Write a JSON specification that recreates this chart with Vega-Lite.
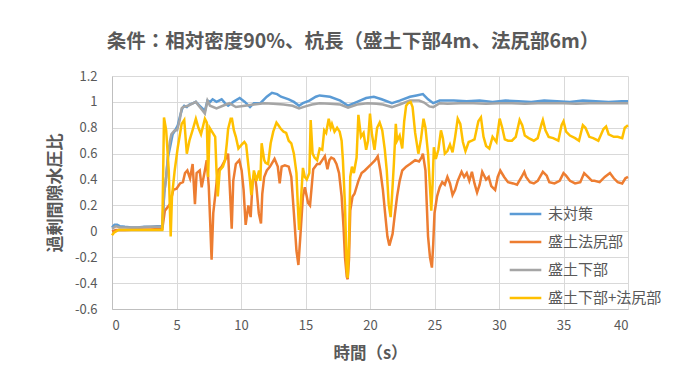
{
"$schema":"https://vega.github.io/schema/vega-lite/v6.json",
"width":516,"height":233,
"autosize":{"type":"none"},
"padding":{"left":112,"top":76,"right":48,"bottom":61},
"background":"white",
"config":{"font":"Noto Sans CJK JP","view":{"stroke":null}},
"title":{"text":"条件：相対密度90%、杭長（盛土下部4m、法尻部6m）","fontSize":19.5,"fontWeight":"bold","color":"#595959","anchor":"middle","dx":-17,"offset":18,"font":"Noto Sans CJK JP"},
"encoding":{
"x":{"field":"t","type":"quantitative","scale":{"domain":[0,40],"nice":false},"axis":{"values":[0,5,10,15,20,25,30,35,40],"title":"時間（s）","titleFontSize":16.5,"titleFontWeight":"bold","titleColor":"#595959","titlePadding":13,"labelFontSize":13,"labelColor":"#595959","labelPadding":10,"ticks":false,"domainColor":"#BFBFBF","gridColor":"#D9D9D9","labelFont":"Noto Sans CJK JP","titleFont":"Noto Sans CJK JP"}},
"y":{"field":"v","type":"quantitative","scale":{"domain":[-0.6,1.2],"nice":false,"zero":false},"axis":{"values":[-0.6,-0.4,-0.2,0,0.2,0.4,0.6,0.8,1,1.2],"labelExpr":"replace(format(datum.value,'.1~f'),'−','-')","title":"過剰間隙水圧比","titleFontSize":17,"titleFontWeight":"bold","titleColor":"#595959","titlePadding":10,"labelFontSize":13,"labelColor":"#595959","labelPadding":15,"ticks":false,"domainColor":"#BFBFBF","gridColor":"#D9D9D9","labelFont":"Noto Sans CJK JP","titleFont":"Noto Sans CJK JP"}}
},
"layer":[
{"data":{"values":[{"t":0,"v":0.03},{"t":0.2,"v":0.05},{"t":0.4,"v":0.05},{"t":0.6,"v":0.04},{"t":1,"v":0.035},{"t":1.5,"v":0.03},{"t":2,"v":0.03},{"t":2.5,"v":0.035},{"t":3,"v":0.035},{"t":3.5,"v":0.04},{"t":3.9,"v":0.04},{"t":4.05,"v":0.3},{"t":4.2,"v":0.42},{"t":4.35,"v":0.58},{"t":4.5,"v":0.65},{"t":4.7,"v":0.75},{"t":4.9,"v":0.78},{"t":5.1,"v":0.82},{"t":5.3,"v":0.9},{"t":5.45,"v":0.95},{"t":5.6,"v":0.97},{"t":5.8,"v":0.96},{"t":6,"v":0.98},{"t":6.3,"v":0.99},{"t":6.5,"v":1.0},{"t":6.8,"v":0.97},{"t":7,"v":0.95},{"t":7.2,"v":0.93},{"t":7.4,"v":1.01},{"t":7.6,"v":1.0},{"t":7.8,"v":1.02},{"t":8.1,"v":1.0},{"t":8.5,"v":1.02},{"t":8.76,"v":0.99},{"t":9,"v":0.97},{"t":9.4,"v":1.0},{"t":9.9,"v":1.03},{"t":10.3,"v":1.0},{"t":10.7,"v":0.96},{"t":11,"v":0.99},{"t":11.5,"v":0.99},{"t":12,"v":1.04},{"t":12.4,"v":1.07},{"t":12.8,"v":1.06},{"t":13.1,"v":1.04},{"t":13.7,"v":1.02},{"t":14.1,"v":1.0},{"t":14.5,"v":0.97},{"t":14.8,"v":0.99},{"t":15.3,"v":1.01},{"t":15.8,"v":1.04},{"t":16.1,"v":1.05},{"t":16.9,"v":1.04},{"t":17.7,"v":1.01},{"t":18.3,"v":0.97},{"t":19,"v":1.0},{"t":19.7,"v":1.03},{"t":20.3,"v":1.04},{"t":20.9,"v":1.02},{"t":21.7,"v":0.99},{"t":22.3,"v":1.01},{"t":23.1,"v":1.04},{"t":23.6,"v":1.05},{"t":24.1,"v":1.06},{"t":24.5,"v":1.02},{"t":24.9,"v":0.99},{"t":25.4,"v":1.01},{"t":26.5,"v":1.01},{"t":27.5,"v":1.005},{"t":28.5,"v":1.01},{"t":29.5,"v":1.0},{"t":30.5,"v":1.01},{"t":31.5,"v":1.005},{"t":32.5,"v":1.0},{"t":33.5,"v":1.01},{"t":34.5,"v":1.005},{"t":35.5,"v":1.0},{"t":36.5,"v":1.01},{"t":37.5,"v":1.005},{"t":38.5,"v":1.0},{"t":39.5,"v":1.005},{"t":40,"v":1.005}]},
"mark":{"type":"line","strokeWidth":2.5},
"encoding":{"color":{"datum":"未対策","scale":{"domain":["未対策","盛土法尻部","盛土下部","盛土下部+法尻部"],"range":["#5B9BD5","#ED7D31","#A5A5A5","#FFC000"]},"legend":{"orient":"none","legendX":396,"legendY":124,"title":null,"padding":0,"symbolType":"stroke","symbolSize":1000,"symbolStrokeWidth":2.5,"labelFontSize":15,"labelColor":"#595959","labelFont":"Noto Sans CJK JP","labelOffset":5,"rowPadding":0,"clipHeight":28}}}},
{"data":{"values":[{"t":0,"v":0.0},{"t":0.3,"v":0.01},{"t":1,"v":0.01},{"t":2,"v":0.015},{"t":3,"v":0.015},{"t":3.9,"v":0.02},{"t":4.1,"v":0.16},{"t":4.5,"v":0.21},{"t":4.75,"v":0.32},{"t":5,"v":0.33},{"t":5.27,"v":0.37},{"t":5.5,"v":0.38},{"t":5.66,"v":0.45},{"t":5.84,"v":0.47},{"t":6.05,"v":0.41},{"t":6.25,"v":0.52},{"t":6.43,"v":0.21},{"t":6.56,"v":0.45},{"t":6.8,"v":0.47},{"t":6.95,"v":0.34},{"t":7.2,"v":0.47},{"t":7.34,"v":0.55},{"t":7.5,"v":0.35},{"t":7.6,"v":0.1},{"t":7.72,"v":-0.22},{"t":7.85,"v":0.14},{"t":8.05,"v":0.32},{"t":8.2,"v":0.47},{"t":8.5,"v":0.5},{"t":8.76,"v":0.55},{"t":9,"v":0.6},{"t":9.15,"v":0.3},{"t":9.28,"v":0.02},{"t":9.4,"v":0.39},{"t":9.6,"v":0.52},{"t":9.87,"v":0.55},{"t":10.05,"v":0.47},{"t":10.2,"v":0.32},{"t":10.36,"v":0.05},{"t":10.57,"v":0.2},{"t":10.75,"v":0.11},{"t":10.9,"v":0.39},{"t":11.05,"v":0.45},{"t":11.2,"v":0.34},{"t":11.38,"v":0.14},{"t":11.55,"v":0.06},{"t":11.65,"v":0.29},{"t":11.8,"v":0.42},{"t":12,"v":0.47},{"t":12.25,"v":0.5},{"t":12.6,"v":0.56},{"t":12.85,"v":0.5},{"t":13,"v":0.37},{"t":13.15,"v":0.5},{"t":13.4,"v":0.51},{"t":13.7,"v":0.5},{"t":13.9,"v":0.42},{"t":14.1,"v":0.14},{"t":14.3,"v":-0.15},{"t":14.45,"v":-0.26},{"t":14.6,"v":-0.04},{"t":14.8,"v":0.27},{"t":14.95,"v":0.34},{"t":15.2,"v":0.22},{"t":15.35,"v":0.2},{"t":15.6,"v":0.48},{"t":15.9,"v":0.52},{"t":16.1,"v":0.52},{"t":16.3,"v":0.55},{"t":16.5,"v":0.58},{"t":16.7,"v":0.48},{"t":16.85,"v":0.55},{"t":17,"v":0.57},{"t":17.2,"v":0.56},{"t":17.4,"v":0.52},{"t":17.6,"v":0.45},{"t":17.8,"v":0.27},{"t":17.95,"v":0.03},{"t":18.06,"v":-0.2},{"t":18.2,"v":-0.35},{"t":18.27,"v":-0.37},{"t":18.37,"v":-0.22},{"t":18.47,"v":0.16},{"t":18.65,"v":0.27},{"t":18.8,"v":0.29},{"t":19.1,"v":0.39},{"t":19.35,"v":0.45},{"t":19.6,"v":0.47},{"t":19.9,"v":0.5},{"t":20.1,"v":0.52},{"t":20.4,"v":0.55},{"t":20.6,"v":0.58},{"t":20.8,"v":0.47},{"t":21,"v":0.32},{"t":21.2,"v":0.11},{"t":21.35,"v":-0.04},{"t":21.5,"v":-0.11},{"t":21.75,"v":-0.02},{"t":21.9,"v":0.11},{"t":22.1,"v":0.27},{"t":22.3,"v":0.39},{"t":22.5,"v":0.47},{"t":22.8,"v":0.5},{"t":23.1,"v":0.52},{"t":23.5,"v":0.55},{"t":23.8,"v":0.54},{"t":24,"v":0.57},{"t":24.1,"v":0.6},{"t":24.3,"v":0.47},{"t":24.4,"v":0.21},{"t":24.5,"v":-0.04},{"t":24.65,"v":-0.2},{"t":24.8,"v":-0.28},{"t":24.9,"v":-0.1},{"t":25,"v":0.14},{"t":25.2,"v":0.27},{"t":25.4,"v":0.34},{"t":25.6,"v":0.38},{"t":25.8,"v":0.36},{"t":26,"v":0.42},{"t":26.2,"v":0.37},{"t":26.4,"v":0.28},{"t":26.6,"v":0.32},{"t":26.8,"v":0.39},{"t":27.1,"v":0.46},{"t":27.3,"v":0.42},{"t":27.5,"v":0.45},{"t":27.7,"v":0.39},{"t":27.9,"v":0.46},{"t":28.1,"v":0.37},{"t":28.3,"v":0.3},{"t":28.5,"v":0.36},{"t":28.7,"v":0.46},{"t":29,"v":0.4},{"t":29.2,"v":0.42},{"t":29.4,"v":0.35},{"t":29.7,"v":0.32},{"t":29.9,"v":0.42},{"t":30.1,"v":0.47},{"t":30.4,"v":0.42},{"t":30.7,"v":0.38},{"t":31.1,"v":0.37},{"t":31.4,"v":0.36},{"t":31.75,"v":0.42},{"t":31.96,"v":0.46},{"t":32.1,"v":0.42},{"t":32.4,"v":0.38},{"t":32.7,"v":0.37},{"t":33,"v":0.39},{"t":33.4,"v":0.46},{"t":33.7,"v":0.43},{"t":33.9,"v":0.38},{"t":34.3,"v":0.37},{"t":34.7,"v":0.39},{"t":35,"v":0.45},{"t":35.2,"v":0.43},{"t":35.5,"v":0.39},{"t":35.9,"v":0.37},{"t":36.3,"v":0.38},{"t":36.6,"v":0.45},{"t":36.9,"v":0.42},{"t":37.2,"v":0.39},{"t":37.4,"v":0.39},{"t":37.8,"v":0.38},{"t":38.2,"v":0.42},{"t":38.6,"v":0.45},{"t":38.9,"v":0.41},{"t":39.2,"v":0.38},{"t":39.55,"v":0.37},{"t":39.8,"v":0.41},{"t":40,"v":0.42}]},
"mark":{"type":"line","strokeWidth":2.5},
"encoding":{"color":{"datum":"盛土法尻部"}}},
{"data":{"values":[{"t":0,"v":0.02},{"t":0.3,"v":0.04},{"t":0.6,"v":0.03},{"t":1,"v":0.03},{"t":2,"v":0.03},{"t":3,"v":0.035},{"t":3.9,"v":0.035},{"t":4.05,"v":0.3},{"t":4.2,"v":0.42},{"t":4.35,"v":0.6},{"t":4.5,"v":0.7},{"t":4.6,"v":0.75},{"t":4.86,"v":0.78},{"t":5.05,"v":0.78},{"t":5.25,"v":0.86},{"t":5.4,"v":0.95},{"t":5.5,"v":0.96},{"t":5.9,"v":0.97},{"t":6.3,"v":0.99},{"t":6.5,"v":1.0},{"t":6.8,"v":0.96},{"t":7.05,"v":0.93},{"t":7.2,"v":0.91},{"t":7.4,"v":1.01},{"t":7.6,"v":0.97},{"t":8.1,"v":0.95},{"t":8.6,"v":0.97},{"t":9.1,"v":0.99},{"t":9.6,"v":0.96},{"t":10.3,"v":0.97},{"t":11,"v":0.98},{"t":11.8,"v":0.99},{"t":12.5,"v":0.985},{"t":13.3,"v":0.98},{"t":14,"v":0.97},{"t":14.5,"v":0.95},{"t":15,"v":0.965},{"t":15.5,"v":0.98},{"t":16.1,"v":0.99},{"t":16.9,"v":0.985},{"t":17.7,"v":0.98},{"t":18.3,"v":0.955},{"t":19,"v":0.98},{"t":19.8,"v":0.99},{"t":20.5,"v":0.985},{"t":21,"v":0.98},{"t":21.7,"v":0.96},{"t":22.3,"v":0.98},{"t":23.1,"v":1.01},{"t":23.8,"v":1.01},{"t":24.2,"v":0.995},{"t":24.6,"v":0.965},{"t":24.9,"v":0.96},{"t":25.4,"v":0.99},{"t":26,"v":0.985},{"t":27,"v":0.99},{"t":28,"v":0.99},{"t":29,"v":0.985},{"t":30,"v":0.99},{"t":31,"v":0.99},{"t":32,"v":0.985},{"t":33,"v":0.99},{"t":34,"v":0.99},{"t":35,"v":0.99},{"t":36,"v":0.985},{"t":37,"v":0.99},{"t":38,"v":0.99},{"t":39,"v":0.99},{"t":40,"v":0.99}]},
"mark":{"type":"line","strokeWidth":2.5},
"encoding":{"color":{"datum":"盛土下部"}}},
{"data":{"values":[{"t":0,"v":-0.03},{"t":0.15,"v":-0.01},{"t":0.5,"v":0.01},{"t":1,"v":0.01},{"t":2,"v":0.01},{"t":3,"v":0.01},{"t":3.9,"v":0.01},{"t":4.03,"v":0.88},{"t":4.2,"v":0.78},{"t":4.4,"v":0.47},{"t":4.55,"v":-0.04},{"t":4.65,"v":0.27},{"t":4.86,"v":0.47},{"t":5.1,"v":0.65},{"t":5.4,"v":0.83},{"t":5.6,"v":0.86},{"t":5.8,"v":0.6},{"t":6,"v":0.7},{"t":6.3,"v":0.8},{"t":6.5,"v":0.87},{"t":6.7,"v":0.8},{"t":6.9,"v":0.75},{"t":7.2,"v":0.87},{"t":7.35,"v":0.84},{"t":7.45,"v":0.42},{"t":7.57,"v":0.8},{"t":7.75,"v":0.77},{"t":8,"v":0.73},{"t":8.1,"v":0.47},{"t":8.2,"v":0.27},{"t":8.35,"v":0.47},{"t":8.6,"v":0.5},{"t":8.76,"v":0.55},{"t":8.9,"v":0.68},{"t":9,"v":0.79},{"t":9.2,"v":0.87},{"t":9.3,"v":0.87},{"t":9.45,"v":0.78},{"t":9.6,"v":0.73},{"t":9.8,"v":0.64},{"t":10.05,"v":0.67},{"t":10.26,"v":0.69},{"t":10.4,"v":0.67},{"t":10.6,"v":0.48},{"t":10.7,"v":0.39},{"t":10.8,"v":0.28},{"t":10.9,"v":0.37},{"t":11,"v":0.47},{"t":11.2,"v":0.39},{"t":11.4,"v":0.47},{"t":11.5,"v":0.39},{"t":11.6,"v":0.68},{"t":11.8,"v":0.55},{"t":11.9,"v":0.53},{"t":12.1,"v":0.52},{"t":12.3,"v":0.68},{"t":12.5,"v":0.77},{"t":12.75,"v":0.84},{"t":12.9,"v":0.82},{"t":13.1,"v":0.79},{"t":13.3,"v":0.77},{"t":13.5,"v":0.76},{"t":13.7,"v":0.7},{"t":13.9,"v":0.68},{"t":14.1,"v":0.6},{"t":14.3,"v":0.45},{"t":14.4,"v":0.21},{"t":14.5,"v":0.01},{"t":14.6,"v":0.16},{"t":14.8,"v":0.49},{"t":14.95,"v":0.42},{"t":15.1,"v":0.4},{"t":15.3,"v":0.45},{"t":15.4,"v":0.86},{"t":15.55,"v":0.6},{"t":15.7,"v":0.57},{"t":15.9,"v":0.55},{"t":16.1,"v":0.64},{"t":16.3,"v":0.63},{"t":16.45,"v":0.78},{"t":16.6,"v":0.76},{"t":16.8,"v":0.87},{"t":16.95,"v":0.8},{"t":17.05,"v":0.83},{"t":17.25,"v":0.77},{"t":17.45,"v":0.8},{"t":17.65,"v":0.77},{"t":17.8,"v":0.7},{"t":17.9,"v":0.55},{"t":18.06,"v":0.2},{"t":18.2,"v":-0.3},{"t":18.27,"v":-0.36},{"t":18.37,"v":-0.1},{"t":18.47,"v":0.42},{"t":18.6,"v":0.5},{"t":18.75,"v":0.45},{"t":18.96,"v":0.57},{"t":19.1,"v":0.9},{"t":19.3,"v":0.73},{"t":19.5,"v":0.76},{"t":19.7,"v":0.63},{"t":19.85,"v":0.7},{"t":20,"v":0.91},{"t":20.15,"v":0.75},{"t":20.35,"v":0.63},{"t":20.55,"v":0.8},{"t":20.75,"v":0.84},{"t":20.95,"v":0.78},{"t":21.15,"v":0.63},{"t":21.3,"v":0.47},{"t":21.45,"v":0.21},{"t":21.6,"v":0.11},{"t":21.7,"v":0.26},{"t":21.85,"v":0.52},{"t":22,"v":0.83},{"t":22.1,"v":0.7},{"t":22.3,"v":0.74},{"t":22.5,"v":0.64},{"t":22.65,"v":0.85},{"t":22.8,"v":0.97},{"t":22.95,"v":0.99},{"t":23.15,"v":1.0},{"t":23.3,"v":0.96},{"t":23.5,"v":0.76},{"t":23.75,"v":0.6},{"t":23.95,"v":0.71},{"t":24.15,"v":0.87},{"t":24.3,"v":0.8},{"t":24.5,"v":0.6},{"t":24.65,"v":0.34},{"t":24.75,"v":0.16},{"t":24.85,"v":0.36},{"t":24.95,"v":0.65},{"t":25.1,"v":0.56},{"t":25.3,"v":0.63},{"t":25.5,"v":0.78},{"t":25.65,"v":0.72},{"t":25.8,"v":0.6},{"t":26,"v":0.62},{"t":26.2,"v":0.67},{"t":26.4,"v":0.61},{"t":26.6,"v":0.73},{"t":26.8,"v":0.87},{"t":27,"v":0.83},{"t":27.2,"v":0.69},{"t":27.4,"v":0.62},{"t":27.65,"v":0.69},{"t":27.9,"v":0.7},{"t":28.1,"v":0.71},{"t":28.4,"v":0.85},{"t":28.6,"v":0.88},{"t":28.8,"v":0.73},{"t":29,"v":0.66},{"t":29.25,"v":0.64},{"t":29.5,"v":0.73},{"t":29.8,"v":0.69},{"t":30.05,"v":0.87},{"t":30.25,"v":0.8},{"t":30.45,"v":0.71},{"t":30.7,"v":0.7},{"t":31,"v":0.7},{"t":31.3,"v":0.73},{"t":31.6,"v":0.86},{"t":31.8,"v":0.82},{"t":32,"v":0.74},{"t":32.3,"v":0.72},{"t":32.7,"v":0.7},{"t":33,"v":0.72},{"t":33.3,"v":0.83},{"t":33.4,"v":0.86},{"t":33.6,"v":0.78},{"t":33.85,"v":0.73},{"t":34.2,"v":0.72},{"t":34.6,"v":0.7},{"t":34.85,"v":0.82},{"t":35,"v":0.85},{"t":35.2,"v":0.77},{"t":35.5,"v":0.74},{"t":35.9,"v":0.72},{"t":36.2,"v":0.7},{"t":36.5,"v":0.82},{"t":36.7,"v":0.8},{"t":37,"v":0.73},{"t":37.3,"v":0.72},{"t":37.7,"v":0.7},{"t":38.1,"v":0.79},{"t":38.3,"v":0.81},{"t":38.5,"v":0.75},{"t":38.9,"v":0.73},{"t":39.2,"v":0.73},{"t":39.55,"v":0.72},{"t":39.75,"v":0.8},{"t":40,"v":0.82}]},
"mark":{"type":"line","strokeWidth":2.5},
"encoding":{"color":{"datum":"盛土下部+法尻部"}}}
]
}
